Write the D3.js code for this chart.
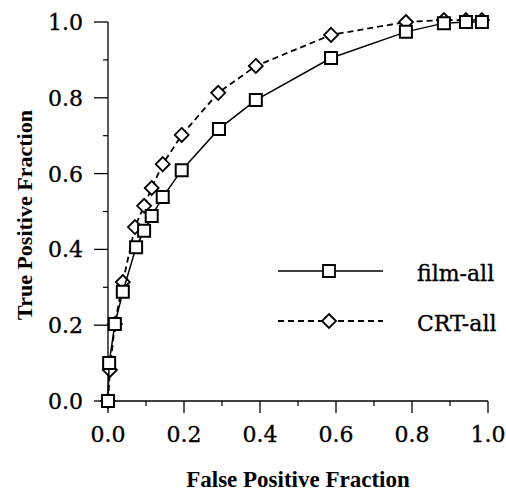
<!DOCTYPE html>
<html>
<head>
<meta charset="utf-8">
<script src="https://cdn.jsdelivr.net/npm/d3@7"></script>
<style>
  body { margin: 0; background: #fff; }
  text { fill: #000; }
  .lbl { stroke: #000; stroke-width: 0.35; }
</style>
</head>
<body>
<div id="chart"></div>
<script>
// ROC data
var filmFpf = [0, 0.003, 0.018, 0.039, 0.074, 0.095, 0.115, 0.144, 0.194, 0.292, 0.389, 0.587, 0.784, 0.884, 0.942, 0.984];
var filmTpf = [0, 0.10, 0.203, 0.288, 0.406, 0.449, 0.488, 0.538, 0.609, 0.718, 0.794, 0.905, 0.974, 0.997, 1.0, 1.0];
var crtFpf = [0, 0.005, 0.018, 0.039, 0.071, 0.095, 0.115, 0.144, 0.194, 0.290, 0.389, 0.587, 0.784, 0.884, 0.942, 0.984];
var crtTpf = [0, 0.082, 0.203, 0.314, 0.459, 0.515, 0.562, 0.625, 0.702, 0.813, 0.884, 0.966, 1.0, 1.005, 1.005, 1.005];
var seriesNames = ["film-all", "CRT-all"];
var majorTicks = [0, 0.2, 0.4, 0.6, 0.8, 1.0];
var minorTicks = [0.1, 0.3, 0.5, 0.7, 0.9];

var width = 506, height = 491;
var svg = d3.select("#chart").append("svg").attr("width", width).attr("height", height);

var x = d3.scaleLinear().domain([0, 1]).range([108, 488]);
var y = d3.scaleLinear().domain([0, 1]).range([401, 22]);

var tickFont = "'DejaVu Serif', serif";

// x axis
var xAxis = svg.append("g").attr("transform", "translate(0," + y(0) + ")");
xAxis.append("line").attr("x1", x(0)).attr("x2", x(1)).attr("stroke", "#000").attr("stroke-width", 1.3);
xAxis.selectAll(".maj").data(majorTicks).enter().append("line")
  .attr("x1", function(d) { return x(d); }).attr("x2", function(d) { return x(d); })
  .attr("y1", 0).attr("y2", 12).attr("stroke", "#000").attr("stroke-width", 1.3);
xAxis.selectAll(".min").data(minorTicks).enter().append("line")
  .attr("x1", function(d) { return x(d); }).attr("x2", function(d) { return x(d); })
  .attr("y1", 0).attr("y2", 5).attr("stroke", "#000").attr("stroke-width", 1.2);
xAxis.selectAll("text").data(majorTicks).enter().append("text")
  .attr("class", "lbl")
  .attr("x", function(d) { return x(d); }).attr("y", 41)
  .attr("text-anchor", "middle").attr("font-family", tickFont).attr("font-size", 22)
  .text(function(d) { return d.toFixed(1); });

// y axis
var yAxis = svg.append("g").attr("transform", "translate(" + x(0) + ",0)");
yAxis.append("line").attr("y1", y(0)).attr("y2", y(1)).attr("stroke", "#000").attr("stroke-width", 1.3);
yAxis.selectAll(".maj").data(majorTicks).enter().append("line")
  .attr("y1", function(d) { return y(d); }).attr("y2", function(d) { return y(d); })
  .attr("x1", 0).attr("x2", -14).attr("stroke", "#000").attr("stroke-width", 1.3);
yAxis.selectAll(".min").data(minorTicks).enter().append("line")
  .attr("y1", function(d) { return y(d); }).attr("y2", function(d) { return y(d); })
  .attr("x1", 0).attr("x2", -5).attr("stroke", "#000").attr("stroke-width", 1.2);
yAxis.selectAll("text").data(majorTicks).enter().append("text")
  .attr("class", "lbl")
  .attr("x", -25).attr("y", function(d) { return y(d) + 8; })
  .attr("text-anchor", "end").attr("font-family", tickFont).attr("font-size", 22)
  .text(function(d) { return d.toFixed(1); });

// axis titles
svg.append("text").attr("x", 298).attr("y", 487).attr("text-anchor", "middle")
  .attr("font-family", "'Liberation Serif', serif").attr("font-weight", "bold").attr("font-size", 23)
  .text("False Positive Fraction");
svg.append("text").attr("transform", "translate(32,215) rotate(-90)").attr("text-anchor", "middle")
  .attr("font-family", "'Liberation Serif', serif").attr("font-weight", "bold").attr("font-size", 22)
  .text("True Positive Fraction");

var line = d3.line().x(function(d) { return x(d[0]); }).y(function(d) { return y(d[1]); });
var film = d3.zip(filmFpf, filmTpf);
var crt = d3.zip(crtFpf, crtTpf);

var sq = d3.symbol().type(d3.symbolSquare).size(144);
var dm = "M0,-7L7,0L0,7L-7,0Z";

// CRT-all (dashed, diamonds)
svg.append("path").datum(crt).attr("d", line).attr("fill", "none").attr("stroke", "#000")
  .attr("stroke-width", 1.8).attr("stroke-dasharray", "6,4");
svg.selectAll(".crt").data(crt).enter().append("path")
  .attr("transform", function(d) { return "translate(" + x(d[0]) + "," + y(d[1]) + ")"; })
  .attr("d", dm).attr("fill", "#fff").attr("stroke", "#000").attr("stroke-width", 1.8);

// film-all (solid, squares)
svg.append("path").datum(film).attr("d", line).attr("fill", "none").attr("stroke", "#000")
  .attr("stroke-width", 1.5);
svg.selectAll(".film").data(film).enter().append("path")
  .attr("transform", function(d) { return "translate(" + x(d[0]) + "," + y(d[1]) + ")"; })
  .attr("d", sq).attr("fill", "#fff").attr("stroke", "#000").attr("stroke-width", 2);

// legend
var legend = svg.append("g");
var legRows = [
  { name: seriesNames[0], y: 271, dash: null, sym: sq, sw: 1.5 },
  { name: seriesNames[1], y: 321, dash: "6,4", sym: dm, sw: 1.8 }
];
legRows.forEach(function(r) {
  legend.append("line").attr("x1", 278).attr("x2", 383).attr("y1", r.y).attr("y2", r.y)
    .attr("stroke", "#000").attr("stroke-width", r.sw).attr("stroke-dasharray", r.dash);
  legend.append("path").attr("transform", "translate(329," + r.y + ")").attr("d", r.sym)
    .attr("fill", "#fff").attr("stroke", "#000").attr("stroke-width", 1.8);
  legend.append("text").attr("class", "lbl").attr("x", 417).attr("y", r.y + 10)
    .attr("font-family", "'DejaVu Serif', serif").attr("font-size", 22)
    .text(r.name);
});
</script>
</body>
</html>
